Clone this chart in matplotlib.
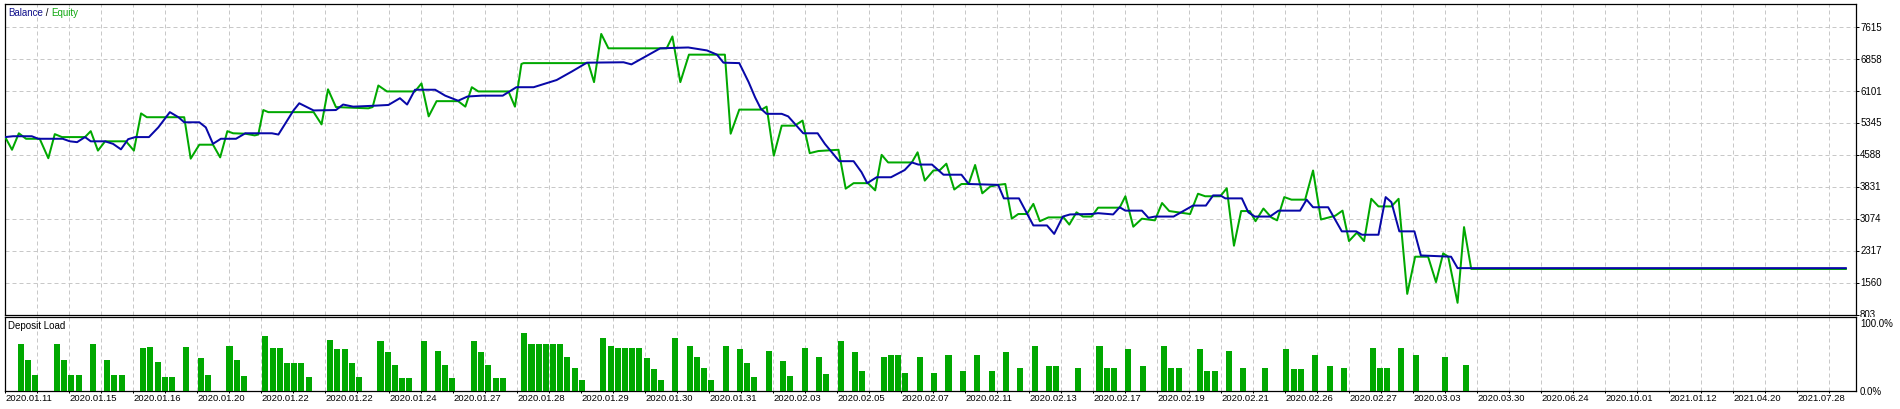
import numpy as np
import matplotlib
matplotlib.use('Agg')  # Non-interactive backend
import matplotlib.pyplot as plt
from matplotlib.transforms import Bbox, TransformedBbox, offset_copy

plt.rcParams['font.family'] = ['Liberation Sans', 'DejaVu Sans']

# ---- data (x = deal slot index, y = account money / deposit load %) ----
EQUITY_X = [-2.2, -1.25, -0.3, 0.7, 2.6, 3.8, 4.7, 5.7, 8.9, 9.7, 10.7, 11.7, 14.6, 15.7, 16.7, 17.5,
            22.7, 23.6, 24.8, 26.7, 27.7, 28.7, 29.5, 31.2, 32.5, 33.0, 33.7, 34.4, 40.7, 41.8, 42.7,
            43.8, 48.3, 48.9, 49.7, 50.9, 54.8, 55.7, 56.7, 57.8, 60.8, 61.8, 62.7, 63.6, 67.8, 68.7,
            69.6, 69.9, 78.9, 79.7, 80.7, 81.7, 89.8, 90.6, 91.7, 92.9, 97.9, 98.7, 99.9, 103.0, 103.7,
            104.7, 105.8, 107.6, 108.7, 109.7, 110.9, 113.7, 114.7, 115.8, 117.8, 118.8, 119.7, 120.6,
            123.9, 124.7, 125.7, 126.9, 127.8, 128.7, 129.8, 130.8, 131.8, 132.7, 133.7, 134.8, 135.9,
            136.9, 137.8, 138.7, 139.9, 140.8, 141.7, 142.9, 145.0, 145.8, 146.8, 147.7, 148.9, 149.8,
            152.8, 153.6, 154.7, 155.9, 157.7, 158.7, 159.7, 162.6, 163.7, 164.7, 166.8, 167.7, 168.7,
            169.7, 170.9, 171.7, 172.8, 173.9, 174.7, 175.7, 176.7, 178.6, 179.7, 180.8, 182.8, 183.8,
            184.7, 185.8, 186.8, 187.8, 188.8, 190.6, 191.6, 192.8, 193.9, 195.7, 196.8, 197.8, 198.5,
            199.8, 200.7, 201.7, 253.8]
EQUITY_Y = [5000, 4700, 5090, 4960, 4960, 4500, 5070, 5000, 5000, 5140, 4680, 4900, 4900, 4680, 5560, 5470,
            5470, 4490, 4820, 4820, 4520, 5140, 5090, 5080, 5040, 5060, 5640, 5590, 5590, 5300, 6130,
            5710, 5680, 5710, 6220, 6080, 6080, 6270, 5490, 5850, 5850, 5720, 6180, 6080, 6080, 5720,
            6730, 6750, 6750, 6300, 7440, 7100, 7100, 7380, 6300, 6950, 6950, 5080, 5650, 5650, 5720,
            4560, 5270, 5270, 5390, 4620, 4670, 4700, 3780, 3910, 3910, 3740, 4580, 4400,
            4400, 4640, 3970, 4210, 4220, 4370, 3760, 3890, 3890, 4340, 3670, 3830, 3870,
            3890, 3070, 3180, 3180, 3420, 3010, 3100, 3100, 2930, 3220, 3120, 3120, 3330,
            3330, 3600, 2880, 3070, 3030, 3440, 3250, 3180, 3660, 3600, 3600, 3790, 2430,
            3250, 3250, 3010, 3310, 3100, 3030, 3580, 3520, 3520, 4210, 3050, 3140, 3260,
            2540, 2740, 2540, 3540, 3360, 3360, 3540, 1290, 2170, 2170, 1570, 2250, 2170,
            1080, 2870, 1880, 1880]

BALANCE_X = [-2.2, -1.1, 1.5, 2.4, 5.8, 6.8, 7.8, 8.9, 9.7, 11.7, 12.8, 13.9, 14.9, 15.9, 17.8, 19.1,
             20.7, 21.9, 22.7, 24.8, 25.7, 26.7, 27.8, 29.9, 31.2, 34.9, 35.8, 37.9, 38.7, 40.7, 43.8,
             44.8, 46.2, 48.9, 51.1, 52.7, 53.7, 54.8, 57.6, 59.0, 60.8, 62.1, 64.1, 67.0, 68.9, 71.3,
             74.5, 76.6, 78.7, 83.8, 84.9, 86.8, 88.9, 92.8, 95.4, 96.8, 97.7, 99.9, 101.2, 102.1,
             102.9, 103.7, 105.8, 106.7, 108.8, 110.8, 111.8, 113.8, 115.8, 116.9, 117.7, 119.0, 121.0,
             122.9, 123.9, 124.8, 126.7, 128.3, 130.8, 131.8, 135.9, 136.7, 138.8, 140.8, 142.7, 143.7,
             144.9, 145.9, 148.9, 149.8, 151.9, 152.8, 153.6, 155.9, 156.8, 157.7, 160.3, 163.0, 164.8,
             165.8, 166.8, 167.5, 169.8, 170.7, 171.6, 173.7, 174.9, 177.9, 178.8, 179.7, 181.8, 183.7,
             185.7, 186.5, 188.8, 189.8, 190.6, 191.7, 193.8, 194.7, 198.9, 199.8, 253.8]
BALANCE_Y = [5000, 5020, 5020, 4960, 4960, 4900, 4880, 5000, 4900, 4900, 4840, 4710, 4950, 5000, 5000, 5230,
             5590, 5470, 5350, 5350, 5230, 4840, 4960, 4960, 5090, 5090, 5060, 5630, 5800, 5630, 5640,
             5770, 5720, 5740, 5760, 5920, 5770, 6120, 6120, 5980, 5860, 5960, 5980, 5980, 6180, 6180,
             6350, 6550, 6760, 6770, 6720, 6900, 7100, 7120, 7050, 6950, 6760, 6750, 6300, 5940,
             5670, 5550, 5550, 5490, 5090, 5090, 4840, 4430, 4430, 4170, 3910, 4050, 4050,
             4220, 4400, 4350, 4350, 4110, 4110, 3890, 3870, 3550, 3550, 2910, 2910, 2710,
             3120, 3170, 3180, 3200, 3170, 3340, 3260, 3260, 3090, 3120, 3120, 3380, 3380,
             3620, 3620, 3550, 3550, 3220, 3120, 3120, 3260, 3260, 3520, 3340, 3340, 2770,
             2770, 2690, 2690, 3580, 3460, 2770, 2770, 2200, 2170, 1900, 1900]

LOAD_X = [0, 1, 2, 5, 6, 7, 8, 10, 12, 13, 14, 17, 18, 19, 20, 21, 23, 25, 26, 29, 30, 31,
          34, 35, 36, 37, 38, 39, 40, 43, 44, 45, 46, 47, 50, 51, 52, 53, 54, 56, 58, 59, 60,
          63, 64, 65, 66, 67, 70, 71, 72, 73, 74, 75, 76, 77, 78, 81, 82, 83, 84, 85, 86, 87,
          88, 89, 91, 93, 94, 95, 96, 98, 100, 101, 102, 104, 106, 107, 109, 111, 112, 114, 116,
          117, 120, 121, 122, 123, 125, 127, 129, 131, 133, 135, 137, 139, 141, 143, 144, 147,
          150, 151, 152, 154, 156, 159, 160, 161, 164, 165, 166, 168, 170, 173, 176, 177, 178,
          180, 182, 184, 188, 189, 190, 192, 194, 198, 201]
LOAD_PCT = [64, 43, 22, 64, 43, 22, 22, 64, 43, 22, 22, 59, 60, 40, 19, 19, 60, 45, 22, 62, 42, 21,
            76, 59, 59, 38, 38, 38, 19, 70, 57, 57, 38, 19, 69, 53, 35, 18, 18, 69, 55, 36, 18,
            69, 53, 35, 18, 18, 80, 64, 64, 64, 64, 64, 47, 31, 15, 72, 61, 59, 59, 59, 59, 45,
            30, 15, 73, 62, 46, 31, 15, 62, 57, 38, 19, 55, 41, 20, 59, 46, 23, 68, 54,
            27, 46, 49, 49, 24, 46, 24, 49, 27, 49, 27, 54, 32, 61, 34, 34, 32,
            62, 31, 31, 58, 34, 61, 32, 32, 57, 28, 28, 55, 32, 31, 58, 30, 30,
            50, 34, 32, 59, 31, 31, 59, 49, 46, 36]

DATE_LABELS = ['2020.01.11', '2020.01.15', '2020.01.16', '2020.01.20', '2020.01.22', '2020.01.22',
               '2020.01.24', '2020.01.27', '2020.01.28', '2020.01.29', '2020.01.30', '2020.01.31',
               '2020.02.03', '2020.02.05', '2020.02.07', '2020.02.11', '2020.02.13', '2020.02.17',
               '2020.02.19', '2020.02.21', '2020.02.26', '2020.02.27', '2020.03.03', '2020.03.30',
               '2020.06.24', '2020.10.01', '2021.01.12', '2021.04.20', '2021.07.28']
Y_LEVELS = [803, 1560, 2317, 3074, 3831, 4588, 5345, 6101, 6858, 7615]

# ---- layout ----
W, H = 1900, 409
GREEN = '#00a800'
BLUE = '#0808a8'
GRID = '#c8c8c8'
PX_PER_SLOT = 7.19
X_MIN = (5 - 21) / PX_PER_SLOT
X_MAX = X_MIN + 1851 / PX_PER_SLOT


def px_rect(x0, y0, x1, y1):
    return [x0 / W, 1 - y1 / H, (x1 - x0) / W, (y1 - y0) / H]


fig = plt.figure(figsize=(W / 100, H / 100), dpi=100)
ax = fig.add_axes(px_rect(5, 4, 1856, 314.5))
axl = fig.add_axes(px_rect(5, 317, 1856, 391))

grid_x = X_MIN + (32 / PX_PER_SLOT) * np.arange(58)
dash = (0, (4, 3))

# main panel: balance / equity
ax.plot(EQUITY_X, EQUITY_Y, color=GREEN, linewidth=1.44, zorder=3)
ax.plot(BALANCE_X, BALANCE_Y, color=BLUE, linewidth=1.44, zorder=4)
ax.set_xlim(X_MIN, X_MAX)
ax.set_ylim(803, 803 + 310.5 * 757 / 32)
ax.set_xticks(grid_x)
ax.set_yticks(Y_LEVELS)
ax.grid(True, color=GRID, linestyle=dash, linewidth=0.72, zorder=0)
ax.tick_params(axis='x', length=0, labelbottom=False)
ax.yaxis.tick_right()
ax.tick_params(axis='y', length=2.2, width=0.72, pad=0.8, labelsize=7)
ax.set_yticklabels([''] + [str(v) for v in Y_LEVELS[1:]])

# bottom label of the main scale is cut by the lower panel
lbl = ax.text(1.0, Y_LEVELS[0], str(Y_LEVELS[0]), fontsize=7, va='center_baseline', ha='left',
              transform=offset_copy(ax.get_yaxis_transform(), fig=fig, x=4, y=0, units='dots'))
lbl.set_clip_box(TransformedBbox(Bbox([[0, 1 - 316.5 / H], [1, 1]]), fig.transFigure))
lbl.set_clip_on(True)

# lower panel: deposit load
axl.bar(LOAD_X, LOAD_PCT, width=0.84, color=GREEN, zorder=3)
axl.set_xlim(X_MIN, X_MAX)
axl.set_ylim(0, 101.4)
axl.set_yticks([])
axl.set_xticks(grid_x)
xlabels = []
for i in range(len(grid_x)):
    xlabels.append(DATE_LABELS[i // 2] if i % 2 == 0 else '')
axl.set_xticklabels(xlabels, ha='left', fontsize=6.8)
axl.tick_params(axis='x', length=1.5, width=0.72, pad=0.8)
axl.grid(True, axis='x', color=GRID, linestyle=dash, linewidth=0.72, zorder=0)

for a in (ax, axl):
    for s in a.spines.values():
        s.set_linewidth(0.9)
        s.set_color('black')

ytr = axl.get_yaxis_transform()
axl.text(1.0, 100, '100.0%', fontsize=7, ha='left', va='top',
         transform=offset_copy(ytr, fig=fig, x=4, y=-1, units='dots'))
axl.text(1.0, 0, '0.0%', fontsize=7, ha='left', va='center',
         transform=offset_copy(ytr, fig=fig, x=4, y=-1, units='dots'))
axl.text(3 / 1851, 1 - 9 / 74, 'Deposit Load', fontsize=7, ha='left', va='center',
         transform=axl.transAxes)

# "Balance / Equity" caption in two colours
renderer = fig.canvas.get_renderer()
x = 8 / W
y = 1 - 13 / H
for part, col in [('Balance', '#10108c'), (' / ', 'black'), ('Equity', '#10a810')]:
    t = fig.text(x, y, part, fontsize=7, color=col, ha='left', va='center')
    bb = t.get_window_extent(renderer=renderer)
    x = (bb.x1) / W

fig.savefig('out.png', dpi=100)
plt.close(fig)
